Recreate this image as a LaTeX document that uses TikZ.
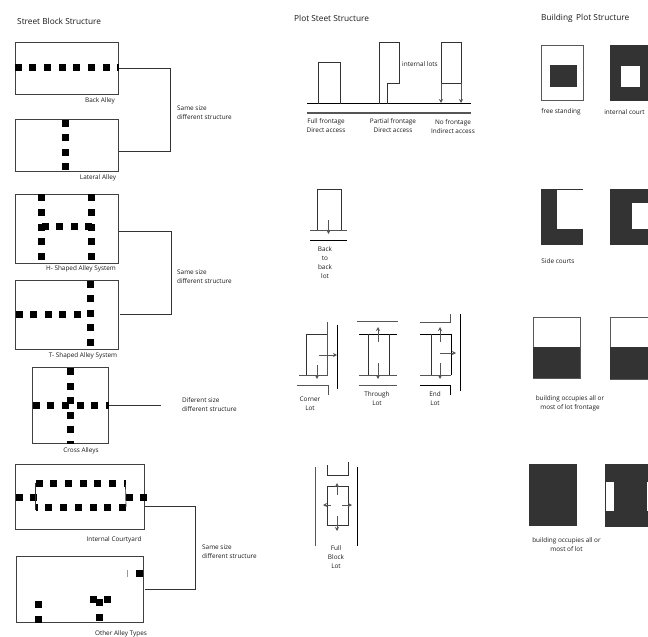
\documentclass[tikz,border=0pt]{standalone}
\usepackage{fontspec}
\usepackage{xcolor}
\setmainfont{Open Sans}
\usetikzlibrary{arrows.meta}
\definecolor{builtgrey}{HTML}{333333}
\definecolor{edgegrey}{HTML}{555555}
\tikzstyle{caption}=[inner sep=0pt, align=center, font=\fontsize{6.4}{9}\selectfont, text=black!90]
\tikzstyle{left caption}=[style=caption, anchor=west, align=left]
\tikzstyle{heading}=[inner sep=0pt, anchor=west, font=\fontsize{8.3}{9}\selectfont, text=black!90]
\tikzstyle{block}=[draw=black!75, line width=0.8pt, shape=rectangle, inner sep=0pt, fill=white]
\tikzstyle{alley}=[fill=black, shape=rectangle, inner sep=0pt, minimum size=7pt]
\tikzstyle{alley end}=[fill=black, shape=rectangle, inner sep=0pt, minimum width=2pt, minimum height=7pt]
\tikzstyle{plot}=[draw=black!65, line width=0.9pt, fill=white, shape=rectangle, inner sep=0pt]
\tikzstyle{built}=[fill=builtgrey, shape=rectangle, inner sep=0pt]
\tikzstyle{void}=[fill=white, shape=rectangle, inner sep=0pt]
\tikzstyle{bracket}=[-, draw=black!80, line width=0.9pt]
\tikzstyle{lot}=[-, draw=black!80, line width=0.7pt]
\tikzstyle{road}=[-, draw=black, line width=0.8pt]
\tikzstyle{grey road}=[-, draw=edgegrey, line width=1pt]
\tikzstyle{access}=[-{Stealth[length=4pt,width=4pt]}, draw=edgegrey, line width=0.7pt]
\pgfdeclarelayer{nodelayer}
\pgfdeclarelayer{edgelayer}
\pgfsetlayers{edgelayer,nodelayer,main}
\begin{document}
\begin{tikzpicture}[x=1pt, y=-1pt]
	\useasboundingbox (0,0) rectangle (648,637);
	\begin{pgfonlayer}{nodelayer}
		% street blocks
		\node [style=block, minimum width=103pt, minimum height=52pt] (back) at (66.5, 68) {};
		\node [style=block, minimum width=103pt, minimum height=52pt] (lateral) at (66.5, 145) {};
		\node [style=block, minimum width=103pt, minimum height=69pt] (hshape) at (67, 228.5) {};
		\node [style=block, minimum width=103pt, minimum height=69pt] (tshape) at (67, 314.5) {};
		\node [style=block, minimum width=76pt, minimum height=76pt] (cross) at (70, 405) {};
		\node [style=block, minimum width=129pt, minimum height=65pt] (court) at (80, 497) {};
		\node [style=block, minimum width=127pt, minimum height=66pt] (other) at (79.5, 589.5) {};
		\node [style=alley] (b0) at (18, 67.5) {};
		\node [style=alley] (b1) at (32, 67.5) {};
		\node [style=alley] (b2) at (47, 67.5) {};
		\node [style=alley] (b3) at (62, 67.5) {};
		\node [style=alley] (b4) at (76.5, 67.5) {};
		\node [style=alley] (b5) at (91, 67.5) {};
		\node [style=alley] (b6) at (106, 67.5) {};
		\node [style=alley end] (b7) at (118, 67.5) {};
		\node [style=alley] (l0) at (65, 123) {};
		\node [style=alley] (l1) at (65, 137.5) {};
		\node [style=alley] (l2) at (65, 152) {};
		\node [style=alley] (l3) at (65, 166.5) {};
		\node [style=alley] (h0) at (41.5, 197.5) {};
		\node [style=alley] (h1) at (41.5, 212) {};
		\node [style=alley] (h2) at (41.5, 227) {};
		\node [style=alley] (h3) at (41.5, 241) {};
		\node [style=alley] (h4) at (41.5, 256) {};
		\node [style=alley] (h5) at (91.5, 197.5) {};
		\node [style=alley] (h6) at (91.5, 212) {};
		\node [style=alley] (h7) at (91.5, 227) {};
		\node [style=alley] (h8) at (91.5, 241) {};
		\node [style=alley] (h9) at (91.5, 256) {};
		\node [style=alley] (h10) at (45, 226) {};
		\node [style=alley] (h11) at (59.5, 226) {};
		\node [style=alley] (h12) at (74.5, 226) {};
		\node [style=alley] (h13) at (88, 226) {};
		\node [style=alley] (t0) at (90, 284) {};
		\node [style=alley] (t1) at (90, 298.5) {};
		\node [style=alley] (t2) at (90, 313.5) {};
		\node [style=alley] (t3) at (90, 327.5) {};
		\node [style=alley] (t4) at (90, 342) {};
		\node [style=alley] (t5) at (19.5, 314.5) {};
		\node [style=alley] (t6) at (33.5, 314.5) {};
		\node [style=alley] (t7) at (48, 314.5) {};
		\node [style=alley] (t8) at (62.5, 314.5) {};
		\node [style=alley] (t9) at (77.5, 314.5) {};
		\node [style=alley] (x0) at (70, 371.5) {};
		\node [style=alley] (x1) at (70, 386) {};
		\node [style=alley] (x2) at (70, 400) {};
		\node [style=alley] (x3) at (70, 415) {};
		\node [style=alley] (x4) at (70, 429.5) {};
		\node [style=alley, minimum height=3pt] (x5) at (70, 442) {};
		\node [style=alley] (x6) at (36, 405) {};
		\node [style=alley] (x7) at (50.5, 405) {};
		\node [style=alley] (x8) at (65, 405) {};
		\node [style=alley] (x9) at (80, 405) {};
		\node [style=alley] (x10) at (94.5, 405) {};
		\node [style=alley end, minimum width=3pt] (x11) at (107, 405) {};
		\node [style=alley] (c0) at (39.5, 483.5) {};
		\node [style=alley] (c1) at (53.5, 483.5) {};
		\node [style=alley] (c2) at (68, 483.5) {};
		\node [style=alley] (c3) at (83, 483.5) {};
		\node [style=alley] (c4) at (97.5, 483.5) {};
		\node [style=alley] (c5) at (112, 483.5) {};
		\node [style=alley end] (c6) at (124.5, 483.5) {};
		\node [style=alley end] (c7) at (36.5, 507.5) {};
		\node [style=alley] (c8) at (48.5, 507.5) {};
		\node [style=alley] (c9) at (63.5, 507.5) {};
		\node [style=alley] (c10) at (78.5, 507.5) {};
		\node [style=alley] (c11) at (93, 507.5) {};
		\node [style=alley] (c12) at (107, 507.5) {};
		\node [style=alley] (c13) at (122, 507.5) {};
		\node [style=alley] (c14) at (19, 497) {};
		\node [style=alley] (c15) at (33, 497) {};
		\node [style=alley] (c16) at (129.5, 497) {};
		\node [style=alley] (c17) at (143, 497) {};
		\node [style=alley] (o0) at (139, 573) {};
		\node [style=alley] (o1) at (38.5, 604) {};
		\node [style=alley] (o2) at (38.5, 619) {};
		\node [style=alley] (o3) at (93, 599) {};
		\node [style=alley] (o4) at (99, 602) {};
		\node [style=alley] (o5) at (107.5, 599) {};
		\node [style=alley] (o6) at (99, 617) {};
		% street block texts
		\node [style=heading] (n0) at (17, 21) {Street Block Structure};
		\node [style=caption] (n1) at (100, 101) {Back Alley};
		\node [style=caption] (n2) at (98, 178) {Lateral Alley};
		\node [style=left caption] (n3) at (177, 112.5) {Same size\\different structure};
		\node [style=caption] (n4) at (81, 268.5) {H- Shaped Alley System};
		\node [style=caption] (n5) at (83, 355.5) {T- Shaped Alley System};
		\node [style=left caption] (n6) at (177, 276.5) {Same size\\different structure};
		\node [style=caption] (n7) at (81, 451) {Cross Alleys};
		\node [style=left caption] (n8) at (182, 404.5) {Diferent size\\different structure};
		\node [style=caption] (n9) at (114, 540) {Internal Courtyard};
		\node [style=left caption] (n10) at (202, 551.5) {Same size\\different structure};
		\node [style=caption] (n11) at (121, 634) {Other Alley Types};
		% plot street texts
		\node [style=heading] (p0) at (294, 18) {Plot Steet Structure};
		\node [style=caption] (p1) at (420, 64) {internal lots};
		\node [style=caption] (p2) at (326, 125.5) {Full frontage\\Direct access};
		\node [style=caption] (p3) at (393, 125.5) {Partial frontage\\Direct access};
		\node [style=caption] (p4) at (453, 126.5) {No frontage\\Indirect access};
		\node [style=caption] (p5) at (325, 263) {Back\\to\\back\\lot};
		\node [style=caption] (p6) at (310, 403.5) {Corner\\Lot};
		\node [style=caption] (p7) at (377, 398.5) {Through\\Lot};
		\node [style=caption] (p8) at (435, 398.5) {End\\Lot};
		\node [style=caption] (p9) at (336, 557) {Full\\Block\\Lot};
		% building plots
		\node [style=heading] (s0) at (541, 18) {Building\, Plot Structure};
		\node [style=plot, minimum width=42pt, minimum height=55pt] (free) at (562, 72.5) {};
		\node [style=built, minimum width=27pt, minimum height=22pt] (free core) at (563.5, 76) {};
		\node [style=built, minimum width=42pt, minimum height=56pt] (inner) at (631, 73) {};
		\node [style=void, minimum width=19pt, minimum height=21pt] (inner yard) at (630.5, 76.5) {};
		\node [style=built, minimum width=42.5pt, minimum height=56pt] (side) at (561.75, 217) {};
		\node [style=void, minimum width=25.5pt, minimum height=39pt] (side yard) at (569.75, 209.5) {};
		\node [style=built, minimum width=42pt, minimum height=56pt] (cut) at (631, 217) {};
		\node [style=void, minimum width=18pt, minimum height=26pt] (cut yard) at (641, 216) {};
		\node [style=plot, minimum width=47pt, minimum height=61pt] (front) at (556.5, 347.5) {};
		\node [style=built, minimum width=47.5pt, minimum height=31pt] (front core) at (556.5, 362.5) {};
		\node [style=plot, minimum width=42pt, minimum height=62pt] (front two) at (631, 348) {};
		\node [style=built, minimum width=42.5pt, minimum height=32pt] (front two core) at (631, 363) {};
		\node [style=built, minimum width=48pt, minimum height=62pt] (whole) at (553, 495) {};
		\node [style=built, minimum width=48pt, minimum height=63pt] (whole two) at (629, 495.5) {};
		\node [style=void, minimum width=8pt, minimum height=29pt] (whole yard) at (610, 496.5) {};
		\node [style=void, minimum width=1.5pt, minimum height=29pt] (whole edge) at (647.25, 496.5) {};
		\node [style=caption] (s1) at (561, 112) {free standing};
		\node [style=caption] (s2) at (624.5, 112) {internal court};
		\node [style=caption] (s3) at (558, 261) {Side courts};
		\node [style=caption] (s4) at (570, 403.5) {building occupies all or\\most of lot frontage};
		\node [style=caption] (s5) at (566.5, 544.5) {building occupies all or\\most of lot};
	\end{pgfonlayer}
	\begin{pgfonlayer}{edgelayer}
		\coordinate (j0) at (170, 151);
		\coordinate (j1) at (119, 151);
		\coordinate (j2) at (171, 231);
		\coordinate (j3) at (119, 231);
		\coordinate (j4) at (120, 314.5);
		\coordinate (j5) at (161, 405);
		\coordinate (j6) at (145, 506);
		\coordinate (j7) at (195.5, 506);
		\coordinate (j8) at (145, 589.5);
		\draw [style=bracket] (back.east) -| (j0) -- (j1);
		\draw [style=bracket] (j4) -| (j2) -- (j3);
		\draw [style=bracket] (cross.east) -- (j5);
		\draw [style=bracket] (j6) -- (j7) |- (j8);
	\end{pgfonlayer}
	% courtyard sides and the stray tick
	\draw [style=lot] (35.5, 483) -- (35.5, 510);
	\draw [style=lot] (125.5, 485) -- (126, 507);
	\draw [draw=black!40, line width=0.5pt] (127.5, 570) -- (127.5, 577);
	% plot street
	\draw [style=road] (307, 103) -- (471, 103);
	\draw [style=grey road, line width=1.6pt] (307, 113) -- (471, 113);
	\draw [style=lot] (318, 104) -- (318, 62) -- (340, 62) -- (340, 104);
	\draw [style=lot] (379, 104) -- (379, 42) -- (399, 42) -- (399, 83) -- (387, 83) -- (387, 104);
	\draw [style=lot] (441, 83) -- (441, 42) -- (461, 42) -- (461, 83) -- cycle;
	\draw [style=access] (441, 83) -- (441, 103);
	\draw [style=access] (461, 83) -- (461, 103);
	% back to back
	\draw [style=lot] (317.5, 230) -- (317.5, 189) -- (341, 189) -- (341, 230);
	\draw [style=grey road] (310, 230) -- (347, 230);
	\draw [style=road] (310, 240) -- (347, 240);
	\draw [style=access] (328.5, 220) -- (328.5, 234);
	% corner
	\draw [style=lot] (327.5, 334) -- (306, 334) -- (306, 375);
	\draw [style=grey road] (327.5, 322) -- (327.5, 375) -- (299, 375);
	\draw [style=road] (337.5, 325) -- (337.5, 389);
	\draw [style=grey road] (297, 385) -- (328, 385) -- (328, 395);
	\draw [style=access] (317, 365) -- (317, 379);
	\draw [style=access] (319, 355) -- (337, 355);
	% through
	\draw [style=grey road] (357, 321.5) -- (397.5, 321.5);
	\draw [style=road] (359, 334) -- (397, 334);
	\draw [style=grey road] (359, 375) -- (397, 375);
	\draw [style=grey road] (359, 385) -- (397, 385);
	\draw [style=lot] (368.5, 334) -- (368.5, 375);
	\draw [style=lot] (389, 334) -- (389, 375);
	\draw [style=access] (378, 342) -- (378, 327);
	\draw [style=access] (378, 363) -- (378, 379);
	% end
	\draw [style=grey road] (420, 322) -- (450, 322) -- (450, 314);
	\draw [style=road] (420, 334) -- (451, 334) -- (451, 375);
	\draw [style=grey road] (451, 375) -- (420, 375);
	\draw [style=lot] (431.5, 334) -- (431.5, 375);
	\draw [style=road] (460.5, 314) -- (460.5, 391);
	\draw [style=road] (420, 385) -- (450, 385) -- (450, 395);
	\draw [style=access] (440, 342) -- (440, 327);
	\draw [style=access] (440, 363) -- (440, 379);
	\draw [style=access] (440, 353) -- (456, 353);
	% full block
	\draw [style=grey road] (315.5, 467) -- (315.5, 546);
	\draw [style=road] (357, 467) -- (357, 546);
	\draw [style=lot] (327, 465) -- (327, 475) -- (348, 475) -- (348, 462);
	\draw [style=lot] (327, 486.5) rectangle (348, 525);
	\draw [style=access] (337, 495) -- (337, 483);
	\draw [style=access] (337, 516) -- (337, 531);
	\draw [style=access] (331, 505) -- (323, 505);
	\draw [style=access] (342, 505) -- (352, 505);
\end{tikzpicture}
\end{document}
